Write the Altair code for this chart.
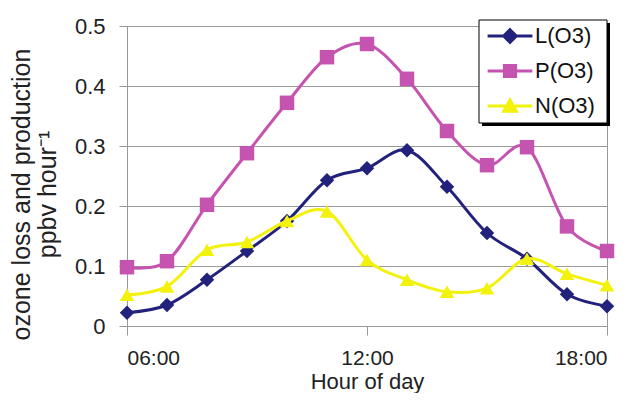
import altair as alt
import pandas as pd

hours = [6, 7, 8, 9, 10, 11, 12, 13, 14, 15, 16, 17, 18]
series_names = ["L(O3)", "P(O3)", "N(O3)"]
loss = [0.022, 0.035, 0.077, 0.125, 0.175, 0.243, 0.263, 0.293, 0.232, 0.155, 0.112, 0.053, 0.033]
prod = [0.098, 0.108, 0.202, 0.288, 0.372, 0.448, 0.470, 0.412, 0.325, 0.268, 0.298, 0.166, 0.125]
net = [0.052, 0.066, 0.127, 0.140, 0.175, 0.191, 0.110, 0.077, 0.057, 0.063, 0.112, 0.087, 0.068]
x_ticks = [6, 12, 18]
x_tick_labels = ["06:00", "12:00", "18:00"]
y_ticks = [0, 0.1, 0.2, 0.3, 0.4, 0.5]
y_tick_labels = ["0", "0.1", "0.2", "0.3", "0.4", "0.5"]
colors = ["#22227C", "#C454AF", "#F2F20C"]
shapes = ["diamond", "square", "triangle-up"]
legend_paths = [
    "M-3.2,0H3.2M0,-0.9L0.9,0L0,0.9L-0.9,0Z",
    "M-3.2,0H3.2M-0.8,-0.8H0.8V0.8H-0.8Z",
    "M-3.2,0H3.2M0,-0.85L0.9,0.75L-0.9,0.75Z",
]

FONT = "Liberation Sans"
GRAY = "#999999"


def lookup_expr(keys, labels, key_expr):
    expr = "''"
    for k, lab in reversed(list(zip(keys, labels))):
        expr = f"({key_expr} == {k} ? '{lab}' : {expr})"
    return expr


x_label_expr = lookup_expr(x_ticks, x_tick_labels, "round(datum.value)")
y_label_expr = lookup_expr([round(t * 10) for t in y_ticks], y_tick_labels, "round(datum.value*10)")

x_enc = alt.X(
    "hour:Q",
    scale=alt.Scale(domain=[6, 18], nice=False),
    axis=alt.Axis(
        values=x_ticks,
        labelExpr=x_label_expr,
        grid=False,
        domainColor=GRAY,
        tickColor=GRAY,
        tickSize=9,
        labelPadding=12,
        labelFont=FONT,
        labelFontSize=21,
        labelColor="#222222",
        title="Hour of day",
        titleFont=FONT,
        titleFontSize=22,
        titleFontWeight="normal",
        titleColor="#222222",
        titleY=45,
    ),
)
y_enc = alt.Y(
    "value:Q",
    scale=alt.Scale(domain=[0, 0.5], nice=False),
    axis=alt.Axis(
        values=y_ticks,
        labelExpr=y_label_expr,
        grid=True,
        gridColor=GRAY,
        domainColor=GRAY,
        tickColor=GRAY,
        tickSize=8,
        labelPadding=14,
        labelFont=FONT,
        labelFontSize=22,
        labelColor="#222222",
        title=["ozone loss and production", "ppbv hour\u207b\u00b9"],
        titleFont=FONT,
        titleFontSize=25,
        titleFontWeight="normal",
        titleColor="#222222",
        titleAngle=270,
        titleX=-93,
        titleY=168,
        titleLineHeight=26,
        titleBaseline="bottom",
        titleAlign="center",
    ),
)

legend_x = 352
legend_y0 = -1
legend_step = 35


def series_layer(i, name, vals):
    df = pd.DataFrame({"hour": hours, "value": vals, "series": [name] * len(hours)})
    color = alt.Color(
        "series:N",
        scale=alt.Scale(domain=[name], range=[colors[i]]),
        legend=alt.Legend(
            title=None,
            orient="none",
            legendX=legend_x,
            legendY=legend_y0 + i * legend_step,
            padding=0,
            labelFont=FONT,
            labelFontSize=22,
            labelColor="#111111",
            symbolType=legend_paths[i],
            symbolSize=196,
            symbolStrokeWidth=3,
            symbolStrokeColor=colors[i],
            symbolFillColor=colors[i],
            symbolOpacity=1,
            symbolOffset=20,
            labelOffset=14,
        ),
    )
    base = alt.Chart(df).encode(x=x_enc, y=y_enc, color=color)
    line = base.mark_line(strokeWidth=3, interpolate="cardinal")
    pts = base.mark_point(filled=True, opacity=1, size=210, shape=shapes[i])
    return alt.layer(line, pts)


layers = [series_layer(i, n, v) for i, (n, v) in enumerate(zip(series_names, [loss, prod, net]))]

box_df = pd.DataFrame({"k": [0]})
shadow = alt.Chart(box_df).mark_rect(color="black").encode(
    x=alt.value(legend_x + 3), x2=alt.value(legend_x + 131),
    y=alt.value(-3), y2=alt.value(100),
)
box = alt.Chart(box_df).mark_rect(fill="white", stroke="black", strokeWidth=1).encode(
    x=alt.value(legend_x), x2=alt.value(legend_x + 128),
    y=alt.value(-6), y2=alt.value(97),
)

chart = (
    alt.layer(shadow, box, *layers)
    .resolve_scale(color="independent")
    .properties(
        width=480,
        height=300,
        autosize=alt.AutoSizeParams(type="none"),
        padding={"left": 119, "top": 18, "right": 25, "bottom": 67},
        background="white",
    )
    .configure_view(stroke=GRAY, strokeWidth=1)
)

chart.save("out.html", embed_options={"renderer": "svg", "actions": False})
